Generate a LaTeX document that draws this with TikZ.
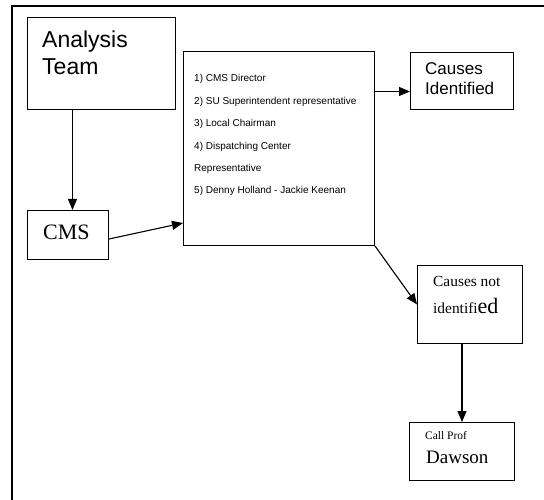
\documentclass[tikz,border=0pt]{standalone}
\usepackage{fontspec}
\setmainfont{Liberation Serif}
\newfontfamily\arialf{Liberation Sans}
\usetikzlibrary{arrows.meta}
\begin{document}
\begin{tikzpicture}[x=1pt,y=-1pt,
  boxn/.style={draw, line width=1pt, inner sep=0pt, anchor=north west},
  txt/.style={anchor=base west, inner sep=0pt},
  arr/.style={line width=1.1pt, -{Triangle[length=11pt,width=9pt]}},
  frame/.style={line width=1.1pt}]
\useasboundingbox (0,0) rectangle (544,500);
% frame
\coordinate (fb) at (12,500);
\coordinate (fc) at (12,6);
\coordinate (fr) at (544,6);
\draw[frame] (fb) -- (fc) -- (fr);
% boxes
\node[boxn, minimum width=148pt, minimum height=92pt] (team) at (27,17) {};
\node[boxn, minimum width=191pt, minimum height=194pt] (list) at (183,51) {};
\node[boxn, minimum width=103pt, minimum height=57pt] (ident) at (410,52) {};
\node[boxn, minimum width=81pt, minimum height=49pt] (cms) at (27,210) {};
\node[boxn, minimum width=105pt, minimum height=78pt] (notid) at (417,265) {};
\node[boxn, minimum width=105pt, minimum height=58pt] (dawson) at (409,422) {};
% texts
\node[txt, font=\arialf\fontsize{23}{27}\selectfont] (t1) at (42,48) {Analysis};
\node[txt, font=\arialf\fontsize{23}{27}\selectfont] (t2) at (42,75) {Team};
\node[txt, font=\arialf\fontsize{17}{20}\selectfont] (t3) at (425,75) {Causes};
\node[txt, font=\arialf\fontsize{17}{20}\selectfont] (t4) at (425,95) {Identified};
\node[txt, font=\fontsize{22}{26}\selectfont] (t5) at (43,240) {CMS};
\node[txt, font=\fontsize{15.4}{18}\selectfont] (t6) at (433,286) {Causes not};
\node[txt, font=\fontsize{15.4}{18}\selectfont] (t7) at (433,313) {identifi{\fontsize{22}{26}\selectfont ed}};
\node[txt, font=\fontsize{11.5}{13}\selectfont] (t8) at (425,439) {Call Prof};
\node[txt, font=\fontsize{19}{22}\selectfont] (t9) at (426,463) {Dawson};
\begin{scope}[every node/.style={txt, font=\arialf\fontsize{10}{12}\selectfont}]
\node (l1) at (194,82) {1) CMS Director};
\node (l2) at (194,104.5) {2) SU Superintendent representative};
\node (l3) at (194,127) {3) Local Chairman};
\node (l4) at (194,149.5) {4) Dispatching Center};
\node (l5) at (194,172) {Representative};
\node (l6) at (194,194) {5) Denny Holland - Jackie Keenan};
\end{scope}
% connectors
\draw[arr] ([xshift=4.5pt]team.south -| cms.north) -- ([xshift=4.5pt]cms.north);
\draw[arr] ([yshift=-4pt]cms.east) -- ([yshift=23pt]list.south west);
\draw[arr] ([yshift=-10.5pt]ident.west -| list.east) -- ([yshift=-10.5pt]ident.west);
\draw[arr] (list.south east) -- (notid.west);
\draw[arr] (notid.south -| dawson.north) -- (dawson.north);
\end{tikzpicture}
\end{document}
